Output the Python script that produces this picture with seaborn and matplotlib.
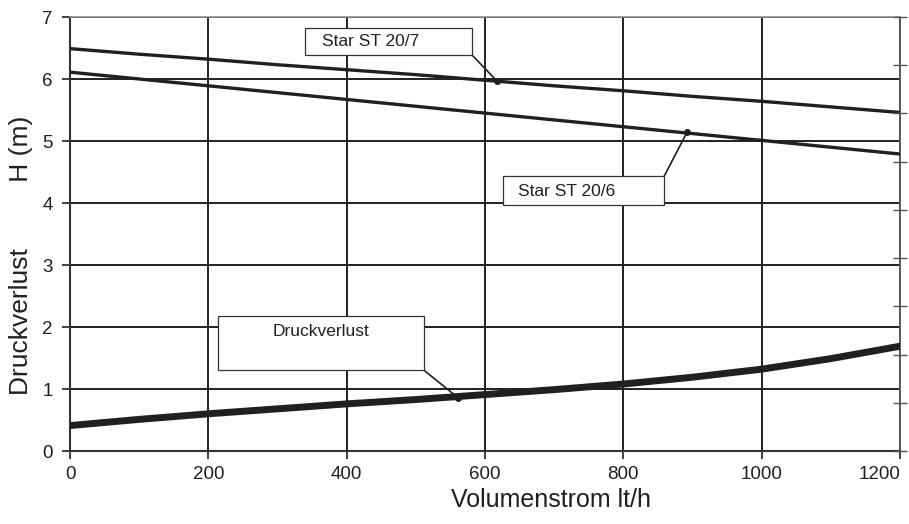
import numpy as np
import pandas as pd
import matplotlib
matplotlib.use("Agg")
import matplotlib.pyplot as plt
from matplotlib.patches import Rectangle
import seaborn as sns

# Werte
flow = [0, 100, 200, 300, 400, 500, 600, 700, 800, 900, 1000, 1100, 1200]
st_20_7 = [6.49, 6.40, 6.32, 6.23, 6.15, 6.07, 5.98, 5.89, 5.81, 5.72, 5.64, 5.55, 5.46]
st_20_6 = [6.11, 6.00, 5.89, 5.78, 5.67, 5.56, 5.45, 5.34, 5.23, 5.12, 5.01, 4.90, 4.79]
druckverlust = [0.41, 0.51, 0.60, 0.68, 0.76, 0.83, 0.91, 0.99, 1.08, 1.19, 1.32, 1.49, 1.69]

x_ticks = [0, 200, 400, 600, 800, 1000, 1200]
y_ticks = [0, 1, 2, 3, 4, 5, 6, 7]

# Beschriftungen: Text und Punkt auf der Kurve
labels = ["Star ST 20/7", "Star ST 20/6", "Druckverlust"]
label_points = [(617, 5.97), (892, 5.14), (561, 0.86)]

sns.set_style("white")
plt.rcParams["font.family"] = ["Liberation Sans", "DejaVu Sans"]

black = "#231f20"

fig = plt.figure(figsize=(9.09, 5.24), dpi=100)
ax = fig.add_axes([70 / 909, 1 - 451 / 524, 830 / 909, (451 - 17) / 524])

sns.lineplot(x=flow, y=st_20_7, color=black, lw=2.4, ax=ax, zorder=3)
sns.lineplot(x=flow, y=st_20_6, color=black, lw=2.4, ax=ax, zorder=3)
sns.lineplot(x=flow, y=druckverlust, color=black, lw=5.0, ax=ax, zorder=3)

ax.set_xlim(0, 1200)
ax.set_ylim(0, 7)
ax.set_xticks(x_ticks)
ax.set_yticks(y_ticks)
ax.grid(True, color=black, lw=1.4)
ax.set_axisbelow(True)

for side in ["left", "bottom"]:
    ax.spines[side].set_color("#333333")
    ax.spines[side].set_linewidth(1.5)
ax.spines["top"].set_color("#8a8f94")
ax.spines["top"].set_linewidth(1.2)
ax.spines["right"].set_color("#555555")
ax.spines["right"].set_linewidth(1.3)

ax.tick_params(axis="both", direction="out", length=5.5, width=1.3,
               color="#333333", labelsize=13.5, labelcolor="#231f20",
               left=True, bottom=True)
ax.tick_params(axis="y", pad=7)
ax.tick_params(axis="x", pad=5)
# letzte Beschriftung liegt im Original links vom Strich
ax.get_xticklabels()[-1].set_horizontalalignment("right")

ax.set_xlabel("Volumenstrom lt/h", fontsize=18, color="#231f20", labelpad=4)
ax.xaxis.set_label_coords(0.58, -0.085)
ax.set_ylabel("Druckverlust         H (m)", fontsize=19, color="#231f20")
ax.yaxis.set_label_coords(-0.044, 0.45)

# rechte Nebenachse ohne Beschriftung
ax2 = ax.twinx()
ax2.set_ylim(0, 9)
ax2.set_yticks(range(10))
ax2.set_yticklabels([])
ax2.tick_params(axis="y", direction="inout", length=10, width=1.0, color="#555555")
for s in ax2.spines.values():
    s.set_visible(False)

# Beschriftungskästen (x0, y0, x1, y1) und Textlage
boxes = [(340, 6.39, 581, 6.82), (626, 3.96, 859, 4.43), (214, 1.30, 512, 2.17)]
anchors = [(581, 6.39), (859, 4.43), (512, 1.30)]
text_pos = [(364, 6.60, "left"), (648, 4.19, "left"), (363, 1.92, "center")]
for lab, pt, box, anc, tp in zip(labels, label_points, boxes, anchors, text_pos):
    x0, y0, x1, y1 = box
    ax.add_patch(Rectangle((x0, y0), x1 - x0, y1 - y0, facecolor="white",
                           edgecolor="#333333", lw=0.9, zorder=5))
    ax.text(tp[0], tp[1], lab, ha=tp[2], va="center", fontsize=12.5,
            color="#231f20", zorder=6)
    ax.plot([anc[0], pt[0]], [anc[1], pt[1]], color=black, lw=1.2, zorder=4)
    ax.plot(pt[0], pt[1], "o", color=black, ms=4, zorder=4)

fig.savefig("out.png", dpi=100)
